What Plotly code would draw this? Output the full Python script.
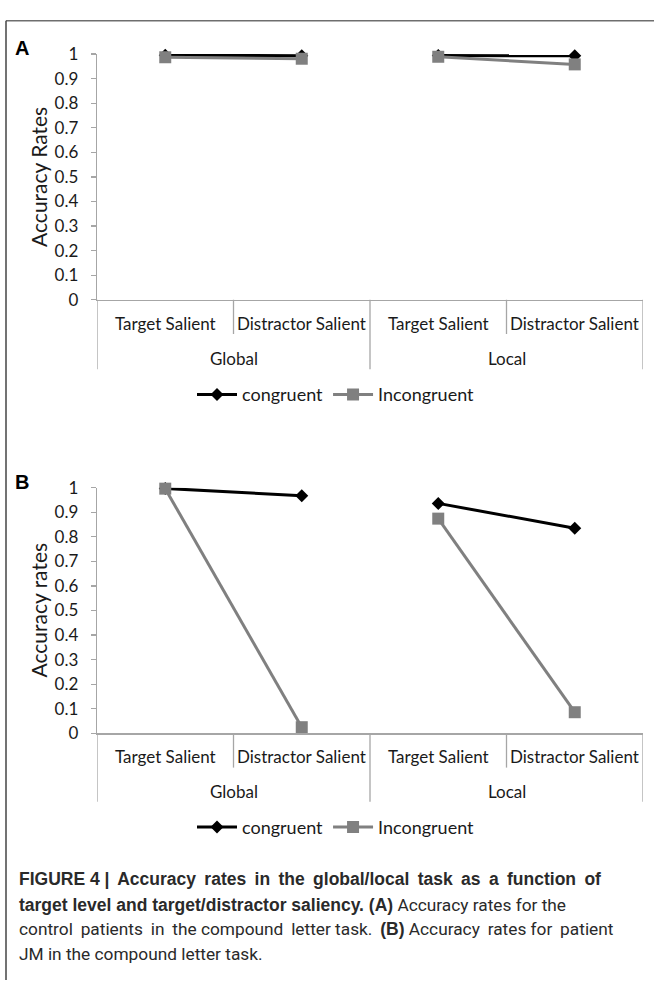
import plotly.graph_objects as go

W, H = 654, 990

levels = ["Global", "Local"]
conditions = ["Target Salient", "Distractor Salient"]
series_names = ["congruent", "Incongruent"]

# Panel A: control patients
a_congruent = [0.995, 0.993, 0.994, 0.993]
a_incongruent = [0.987, 0.981, 0.989, 0.958]
# Panel B: patient JM
b_congruent = [0.997, 0.967, 0.936, 0.835]
b_incongruent = [0.996, 0.025, 0.874, 0.086]

yticks = [0, 0.1, 0.2, 0.3, 0.4, 0.5, 0.6, 0.7, 0.8, 0.9, 1]
ytick_text = ["0", "0.1", "0.2", "0.3", "0.4", "0.5", "0.6", "0.7", "0.8", "0.9", "1"]

panel_titles = ["Accuracy Rates", "Accuracy rates"]
panel_letters = ["A", "B"]

TS = "\u2009"  # thin space used to mimic justified caption lines
BOLD = '<span style="font-family:Liberation Sans;font-weight:bold;font-size:17.5px">'
caption_lines = [
    BOLD + f"FIGURE 4 |{TS} Accuracy {TS}rates {TS}in {TS}the {TS}global/local {TS}task {TS}as {TS}a {TS}function {TS}of</span>",
    BOLD + "target level and target/distractor saliency. (A)</span> Accuracy rates for the",
    f"control {TS}patients {TS}in {TS}the compound {TS}letter task. {TS}" + BOLD + f"(B)</span> Accuracy {TS}rates for {TS}patient",
    "JM in the compound letter task.",
]

cats = [f"{lv} | {c}" for lv in levels for c in conditions]

FONT = "Lato"
TXT = "#1a1a1a"
AXC = "#a6a6a6"
BLACK = "#000000"
GRAY = "#808080"


def px(x):
    return x / W


def py(y):
    return 1 - y / H


fig = go.Figure()

panels = [
    dict(cong=a_congruent, inc=a_incongruent, top=44, bot=295, legend="legend",
         ax="x", ay="y", inner=330, outer=366, lab=319, grp=355, leg=392, letter_y=38),
    dict(cong=b_congruent, inc=b_incongruent, top=487, bot=738, legend="legend2",
         ax="x2", ay="y2", inner=773, outer=808, lab=762, grp=797, leg=834, letter_y=481),
]

for pi, p in enumerate(panels):
    for si, (name, vals, color, sym, msize) in enumerate([
        (series_names[0], p["cong"], BLACK, "diamond", 10),
        (series_names[1], p["inc"], GRAY, "square", 12),
    ]):
        for gi, lv in enumerate(levels):
            xs = cats[gi * 2: gi * 2 + 2]
            ys = vals[gi * 2: gi * 2 + 2]
            fig.add_trace(go.Scatter(
                x=xs, y=ys, mode="lines+markers", name=name,
                line=dict(color=color, width=3),
                marker=dict(symbol=sym, size=msize, color=color),
                xaxis=p["ax"], yaxis=p["ay"],
                legend=p["legend"], legendgroup=f"{pi}-{name}",
                showlegend=(gi == 0), cliponaxis=False,
            ))

x_dom = [px(97), px(643)]
axis_common_x = dict(
    type="category", categoryorder="array", categoryarray=cats,
    range=[-0.5, 3.5], showticklabels=False, ticks="", showgrid=False,
    zeroline=False, showline=True, linecolor=AXC, linewidth=1.3, fixedrange=True,
)
axis_common_y = dict(
    range=[0, 1], tickvals=yticks, ticktext=ytick_text, ticks="outside",
    ticklen=5, tickcolor=AXC, tickwidth=1.3, showgrid=False, zeroline=False,
    showline=True, linecolor=AXC, linewidth=1.3, fixedrange=True,
    tickfont=dict(family=FONT, size=17, color=TXT), ticklabelstandoff=9,
)

legend_common = dict(orientation="h", x=px(336), xanchor="center", yanchor="middle",
                     font=dict(family=FONT, size=18, color=TXT), bgcolor="rgba(0,0,0,0)",
                     itemwidth=40, tracegroupgap=0)

fig.update_layout(
    autosize=True, margin=dict(l=0, r=0, t=0, b=0),
    paper_bgcolor="white", plot_bgcolor="white",
    xaxis=dict(domain=x_dom, anchor="y", **axis_common_x),
    yaxis=dict(domain=[py(295), py(44)], anchor="x", **axis_common_y),
    xaxis2=dict(domain=x_dom, anchor="y2", **axis_common_x),
    yaxis2=dict(domain=[py(738), py(487)], anchor="x2", **axis_common_y),
    legend=dict(y=py(392), **legend_common),
    legend2=dict(y=py(834), **legend_common),
    showlegend=True,
)

shapes = []
annotations = []

# frame
shapes.append(dict(type="line", xref="paper", yref="paper", x0=px(6), x1=1, y0=py(10), y1=py(10),
                   line=dict(color="#6e6e6e", width=1.5)))
shapes.append(dict(type="line", xref="paper", yref="paper", x0=px(6), x1=px(6), y0=py(10), y1=0,
                   line=dict(color="#444444", width=1.5)))

for pi, p in enumerate(panels):
    xr = p["ax"]
    # category dividers
    for xv, ybot in [(-0.5, p["outer"]), (0.5, p["inner"]), (1.5, p["outer"]),
                     (2.5, p["inner"]), (3.5, p["outer"])]:
        shapes.append(dict(type="line", xref=xr, yref="paper", x0=xv, x1=xv,
                           y0=py(p["bot"]), y1=py(ybot), line=dict(color=AXC, width=1.3)))
    # inner labels
    for ci, c in enumerate(cats):
        annotations.append(dict(xref=xr, yref="paper", x=ci, y=py(p["lab"]),
                                text=conditions[ci % 2], showarrow=False,
                                xanchor="center", yanchor="middle",
                                font=dict(family=FONT, size=17, color=TXT)))
    # group labels
    for gi, lv in enumerate(levels):
        annotations.append(dict(xref=xr, yref="paper", x=gi * 2 + 0.5, y=py(p["grp"]),
                                text=lv, showarrow=False, xanchor="center", yanchor="middle",
                                font=dict(family=FONT, size=17, color=TXT)))
    # y title
    annotations.append(dict(xref="paper", yref="paper", x=px(39), y=py((p["top"] + p["bot"]) / 2),
                            text=panel_titles[pi], textangle=-90, showarrow=False,
                            xanchor="center", yanchor="middle",
                            font=dict(family=FONT, size=21, color=TXT)))
    # panel letter
    annotations.append(dict(xref="paper", yref="paper", x=px(13), y=py(p["letter_y"]),
                            text=f"<b>{panel_letters[pi]}</b>", showarrow=False,
                            xanchor="left", yanchor="middle",
                            font=dict(family="Liberation Sans", size=20, color="#000000")))

cap_y = [887, 913, 938, 963]
for line, yv in zip(caption_lines, cap_y):
    annotations.append(dict(xref="paper", yref="paper", x=px(17), y=py(yv), text=line,
                            showarrow=False, xanchor="left", yanchor="middle",
                            font=dict(family="Roboto", size=17.3, color="#2a2a2a")))

fig.update_layout(shapes=shapes, annotations=annotations)

fig.write_html(
    "out.html",
    default_width="100vw",
    default_height="100vh",
    config={"displayModeBar": False, "staticPlot": True, "responsive": True},
    post_script=(
        "document.documentElement.style.margin='0';"
        "document.body.style.margin='0';document.body.style.padding='0';"
        "document.body.style.overflow='hidden';"
        "var d=document.getElementById('{plot_id}');"
        "d.style.position='fixed';d.style.top='0px';d.style.left='0px';"
    ),
)
